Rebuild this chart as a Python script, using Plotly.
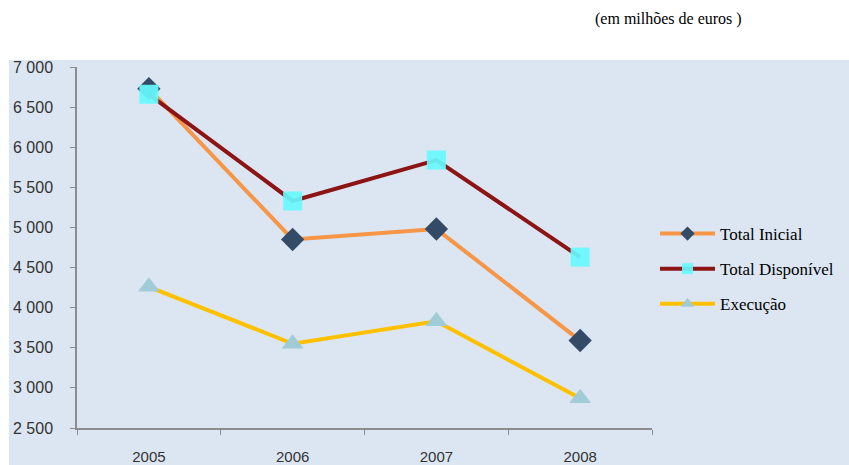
import plotly.graph_objects as go

years = ["2005", "2006", "2007", "2008"]
total_inicial = [6730, 4850, 4980, 3590]
total_disponivel = [6660, 5330, 5840, 4630]
execucao = [4260, 3550, 3830, 2870]
y_ticks = [2500, 3000, 3500, 4000, 4500, 5000, 5500, 6000, 6500, 7000]
y_ticktext = ["2 500", "3 000", "3 500", "4 000", "4 500", "5 000", "5 500", "6 000", "6 500", "7 000"]

series = [
    ("Total Inicial", total_inicial, "#F79646", "diamond", 18, 11, "#344B68"),
    ("Total Disponível", total_disponivel, "#8C1414", "square", 19, 11, "rgba(102,250,255,0.92)"),
    ("Execução", execucao, "#FFC000", "triangle-up", 19, 12, "#A0CCD8"),
]

fig = go.Figure()
for name, vals, lc, sym, msize, lsize, mc in series:
    fig.add_trace(go.Scatter(
        x=years, y=vals, name=name, mode="lines+markers", showlegend=False,
        line=dict(color=lc, width=4),
        marker=dict(symbol=sym, size=msize, color=mc),
    ))
for name, vals, lc, sym, msize, lsize, mc in series:
    fig.add_trace(go.Scatter(
        x=[None], y=[None], name=name, mode="lines+markers", showlegend=True,
        legendgroup=name,
        line=dict(color=lc, width=4),
        marker=dict(symbol=sym, size=lsize, color=mc),
    ))

W, H = 849, 465
L, R, T, B = 77, 197, 67, 37
pw = W - L - R
ph = H - T - B

fig.add_shape(type="rect", xref="paper", yref="paper",
              x0=(9 - L) / pw, x1=(W - L) / pw,
              y0=(H - B - H) / ph, y1=(H - B - 60) / ph,
              fillcolor="#DCE6F2", line=dict(width=0), layer="below")

fig.add_annotation(text="(em milhões de euros )", xref="paper", yref="paper",
                   x=(593 - L) / pw, y=(H - B - 19) / ph, xanchor="left", yanchor="middle",
                   showarrow=False, font=dict(family="Liberation Serif", size=16, color="#000000"))

fig.update_layout(
    width=W, height=H,
    margin=dict(l=L, r=R, t=T, b=B, autoexpand=False),
    paper_bgcolor="white",
    plot_bgcolor="rgba(0,0,0,0)",
    showlegend=True,
    legend=dict(x=(655 - L) / pw, y=(H - B - 216) / ph, xanchor="left", yanchor="top",
                bgcolor="rgba(0,0,0,0)", font=dict(family="Liberation Serif", size=17, color="#000000"),
                tracegroupgap=10, itemwidth=55),
    xaxis=dict(type="category", range=[-0.5, 3.5], tickson="boundaries", ticks="outside",
               ticklen=5, tickcolor="#8C8C8C", showline=True, linecolor="#8C8C8C", linewidth=1.5,
               showgrid=False, zeroline=False, ticklabelstandoff=14, automargin=False,
               tickfont=dict(family="Liberation Sans", size=15, color="#333333")),
    yaxis=dict(range=[2500, 7000], tickvals=y_ticks, ticktext=y_ticktext, ticks="outside",
               ticklen=5, tickcolor="#8C8C8C", showline=True, linecolor="#8C8C8C", linewidth=1.5,
               showgrid=False, zeroline=False, ticklabelstandoff=14, automargin=False,
               tickfont=dict(family="Liberation Sans", size=16, color="#333333")),
)

fig.write_html("out.html")
